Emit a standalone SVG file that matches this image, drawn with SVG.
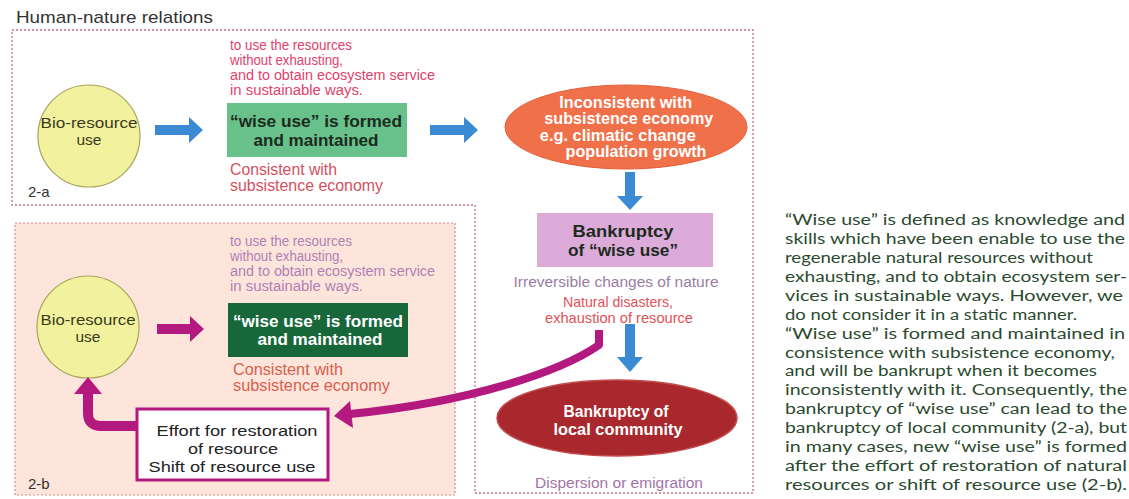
<svg xmlns="http://www.w3.org/2000/svg" width="1129" height="499" viewBox="0 0 1129 499">
<style>
.sans{font-family:"Liberation Sans",Arial,sans-serif}
.b{font-weight:bold}
.red{fill:#e2416a}
.pur{fill:#b07fb4}
.cons{fill:#d4505e}
.cons2{fill:#d8604e}
.dark{fill:#1c2a1e}
.wht{fill:#ffffff}
.para{font-family:Lato,"Open Sans",sans-serif;font-size:15.5px;fill:#2a4a2e}
.blue{fill:#3a8ad4}
.mag{fill:#b3197e}
.magl{stroke:#b3197e;fill:none;stroke-linejoin:round}
.bio{fill:#f2f29e;stroke:#a4a45a;stroke-width:1.2}
</style>
<rect width="1129" height="499" fill="#ffffff"/>
<text class="sans" x="16" y="23" font-size="17" fill="#333333" textLength="197" lengthAdjust="spacingAndGlyphs">Human-nature relations</text>

<g id="frames">
<path d="M12,30 H753 V493 H475 V205 H12 Z" fill="none" stroke="#c4707c" stroke-width="1.3" stroke-dasharray="2 2"/>
<rect x="15" y="223" width="440" height="272" fill="#fde5db" stroke="#d88a8a" stroke-width="1.2" stroke-dasharray="2 2"/>
<text class="sans" x="28" y="197" font-size="15" fill="#333">2-a</text>
<text class="sans" x="28" y="489" font-size="15" fill="#333">2-b</text>
</g>

<g id="bio-a">
<circle class="bio" cx="89" cy="136" r="51"/>
<text class="sans" x="89" y="128" font-size="15.5" fill="#3a3a20" text-anchor="middle" textLength="97" lengthAdjust="spacingAndGlyphs">Bio-resource</text>
<text class="sans" x="89" y="145" font-size="15.5" fill="#3a3a20" text-anchor="middle">use</text>
</g>

<g id="wise-a">
<text class="sans red" font-size="14">
<tspan x="230" y="50" textLength="122" lengthAdjust="spacingAndGlyphs">to use the resources</tspan>
<tspan x="230" y="65" textLength="113" lengthAdjust="spacingAndGlyphs">without exhausting,</tspan>
<tspan x="230" y="80" textLength="205" lengthAdjust="spacingAndGlyphs">and to obtain ecosystem service</tspan>
<tspan x="230" y="95" textLength="133" lengthAdjust="spacingAndGlyphs">in sustainable ways.</tspan>
</text>
<rect x="227" y="103" width="180" height="54" fill="#68c18a"/>
<text class="sans b dark" x="316" y="127" font-size="17" text-anchor="middle" textLength="172" lengthAdjust="spacingAndGlyphs">“wise use” is formed</text>
<text class="sans b dark" x="316" y="146" font-size="17" text-anchor="middle" textLength="125" lengthAdjust="spacingAndGlyphs">and maintained</text>
<text class="sans cons" x="230" y="175" font-size="16" textLength="107" lengthAdjust="spacingAndGlyphs">Consistent with</text>
<text class="sans cons" x="230" y="191" font-size="16" textLength="153" lengthAdjust="spacingAndGlyphs">subsistence economy</text>
</g>

<g id="inconsistent">
<ellipse cx="626" cy="127" rx="121" ry="42" fill="#f0704a" stroke="#e65e3a" stroke-width="1"/>
<text class="sans b wht" font-size="16" text-anchor="middle">
<tspan x="628" y="108" textLength="133" lengthAdjust="spacingAndGlyphs">Inconsistent with</tspan>
<tspan x="631" y="124" textLength="169" lengthAdjust="spacingAndGlyphs">subsistence economy</tspan>
<tspan x="620" y="141" textLength="156" lengthAdjust="spacingAndGlyphs">e.g. climatic change</tspan>
<tspan x="636" y="157" textLength="141" lengthAdjust="spacingAndGlyphs">population growth</tspan>
</text>
</g>

<g id="bankrupt-wise">
<rect x="537" y="213" width="176" height="54" fill="#dcabd9"/>
<text class="sans b dark" x="623" y="237" font-size="17" text-anchor="middle" textLength="101" lengthAdjust="spacingAndGlyphs">Bankruptcy</text>
<text class="sans b dark" x="623" y="256" font-size="17" text-anchor="middle" textLength="110" lengthAdjust="spacingAndGlyphs">of “wise use”</text>
<text class="sans" x="616" y="287" font-size="15.5" fill="#9a7ca2" text-anchor="middle" textLength="205" lengthAdjust="spacingAndGlyphs">Irreversible changes of nature</text>
<text class="sans" x="618" y="307" font-size="14.5" fill="#e2505a" text-anchor="middle" textLength="110" lengthAdjust="spacingAndGlyphs">Natural disasters,</text>
<text class="sans" x="619" y="323" font-size="14.5" fill="#e2505a" text-anchor="middle" textLength="148" lengthAdjust="spacingAndGlyphs">exhaustion of resource</text>
</g>

<g id="bankrupt-community">
<ellipse cx="617" cy="418" rx="120" ry="38" fill="#a9282d" stroke="#c24a4a" stroke-width="1.5"/>
<text class="sans b wht" x="616" y="417" font-size="16" text-anchor="middle" textLength="105" lengthAdjust="spacingAndGlyphs">Bankruptcy of</text>
<text class="sans b wht" x="618" y="435" font-size="16" text-anchor="middle" textLength="129" lengthAdjust="spacingAndGlyphs">local community</text>
<text class="sans" x="619" y="488" font-size="15.5" fill="#a274a6" text-anchor="middle" textLength="168" lengthAdjust="spacingAndGlyphs">Dispersion or emigration</text>
</g>

<g id="bio-b">
<circle class="bio" cx="88" cy="327" r="51"/>
<text class="sans" x="88" y="325" font-size="15.5" fill="#3a3a20" text-anchor="middle" textLength="95" lengthAdjust="spacingAndGlyphs">Bio-resource</text>
<text class="sans" x="88" y="342" font-size="15.5" fill="#3a3a20" text-anchor="middle">use</text>
</g>

<g id="wise-b">
<text class="sans pur" font-size="14">
<tspan x="230" y="246" textLength="122" lengthAdjust="spacingAndGlyphs">to use the resources</tspan>
<tspan x="230" y="261" textLength="113" lengthAdjust="spacingAndGlyphs">without exhausting,</tspan>
<tspan x="230" y="276" textLength="205" lengthAdjust="spacingAndGlyphs">and to obtain ecosystem service</tspan>
<tspan x="230" y="291" textLength="133" lengthAdjust="spacingAndGlyphs">in sustainable ways.</tspan>
</text>
<rect x="228" y="303" width="180" height="54" fill="#18673b"/>
<text class="sans b wht" x="318" y="327" font-size="17" text-anchor="middle" textLength="170" lengthAdjust="spacingAndGlyphs">“wise use” is formed</text>
<text class="sans b wht" x="320" y="345" font-size="17" text-anchor="middle" textLength="125" lengthAdjust="spacingAndGlyphs">and maintained</text>
<text class="sans cons2" x="233" y="375" font-size="16" textLength="110" lengthAdjust="spacingAndGlyphs">Consistent with</text>
<text class="sans cons2" x="233" y="391" font-size="16" textLength="157" lengthAdjust="spacingAndGlyphs">subsistence economy</text>
</g>

<g id="effort">
<rect x="137" y="409" width="191" height="71" fill="#ffffff" stroke="#b3197e" stroke-width="3"/>
<text class="sans" x="237" y="436" font-size="15.5" fill="#222" text-anchor="middle" textLength="161" lengthAdjust="spacingAndGlyphs">Effort for restoration</text>
<text class="sans" x="233" y="454" font-size="15.5" fill="#222" text-anchor="middle" textLength="90" lengthAdjust="spacingAndGlyphs">of resource</text>
<text class="sans" x="232" y="472" font-size="15.5" fill="#222" text-anchor="middle" textLength="167" lengthAdjust="spacingAndGlyphs">Shift of resource use</text>
</g>

<g id="connectors">
<polygon class="blue" points="155,125 189,125 189,117 203,130 189,143 189,135 155,135"/>
<polygon class="blue" points="430,125 464,125 464,117 478,130 464,143 464,135 430,135"/>
<polygon class="blue" points="625,172 635,172 635,196 643,196 630,210 617,196 625,196"/>
<polygon class="blue" points="625,324 635,324 635,357 643,357 630,372 617,357 625,357"/>
<polygon class="mag" points="157,324 190,324 190,316 204,329 190,342 190,334 157,334"/>
<path class="magl" d="M137,426 H101 Q88,426 88,413 V392" stroke-width="10"/>
<polygon class="mag" points="88,377 74,394 102,394"/>
<path class="magl" d="M599,330 V345 C560,372 470,402 350,414" stroke-width="8"/>
<polygon class="mag" points="334,416 350,401 353,428"/>
</g>

<g id="description">
<text class="para">
<tspan x="785" y="225" textLength="340" lengthAdjust="spacingAndGlyphs">“Wise use” is defined as knowledge and</tspan>
<tspan x="785" y="244" textLength="340" lengthAdjust="spacingAndGlyphs">skills which have been enable to use the</tspan>
<tspan x="785" y="263" textLength="308" lengthAdjust="spacingAndGlyphs">regenerable natural resources without</tspan>
<tspan x="785" y="282" textLength="342" lengthAdjust="spacingAndGlyphs">exhausting, and to obtain ecosystem ser-</tspan>
<tspan x="785" y="301" textLength="338" lengthAdjust="spacingAndGlyphs">vices in sustainable ways.  However, we</tspan>
<tspan x="785" y="320" textLength="292" lengthAdjust="spacingAndGlyphs">do not consider it in a static manner.</tspan>
<tspan x="785" y="339" textLength="340" lengthAdjust="spacingAndGlyphs">“Wise use” is formed and maintained in</tspan>
<tspan x="785" y="358" textLength="330" lengthAdjust="spacingAndGlyphs">consistence with subsistence economy,</tspan>
<tspan x="785" y="376" textLength="312" lengthAdjust="spacingAndGlyphs">and will be bankrupt when it becomes</tspan>
<tspan x="785" y="395" textLength="342" lengthAdjust="spacingAndGlyphs">inconsistently with it.  Consequently, the</tspan>
<tspan x="785" y="414" textLength="342" lengthAdjust="spacingAndGlyphs">bankruptcy of “wise use” can lead to the</tspan>
<tspan x="785" y="433" textLength="342" lengthAdjust="spacingAndGlyphs">bankruptcy of local community (2-a), but</tspan>
<tspan x="785" y="452" textLength="342" lengthAdjust="spacingAndGlyphs">in many cases, new “wise use” is formed</tspan>
<tspan x="785" y="471" textLength="342" lengthAdjust="spacingAndGlyphs">after the effort of restoration of natural</tspan>
<tspan x="785" y="490" textLength="342" lengthAdjust="spacingAndGlyphs">resources or shift of resource use (2-b).</tspan>
</text>
</g>
</svg>
